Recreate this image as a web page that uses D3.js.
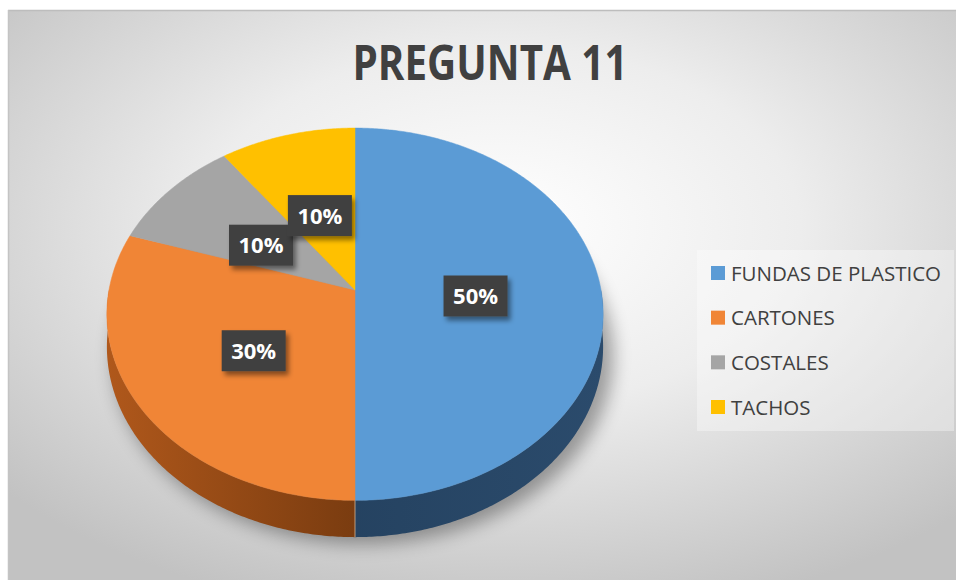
<!DOCTYPE html>
<html>
<head>
<meta charset="utf-8">
<script src="https://cdn.jsdelivr.net/npm/d3@7"></script>
<style>
  body { margin: 0; background: #ffffff; }
</style>
</head>
<body>
<div class="container"></div>
<script>
// data
var categories = ["FUNDAS DE PLASTICO", "CARTONES", "COSTALES", "TACHOS"];
var values = [50, 30, 10, 10];
var labels = ["50%", "30%", "10%", "10%"];
var topColors = ["#5B9BD5", "#F08536", "#A5A5A5", "#FFC000"];
var sideColors = [["#2B4B6C", "#1F3A56"], ["#B0581B", "#7A3C10"], ["#7C7C7C", "#5E5E5E"], ["#BF9000", "#8F6C00"]];

var W = 958, H = 580;

//Makes the stage
function makeStage(w, h) {
    var stage = d3.select(".container")
      .insert("svg")
      .attr("width", w)
      .attr("height", h)
      .style("display", "block");
    return stage;
}

var svg = makeStage(W, H);
var defs = svg.append("defs");

// background gradient
var bg = defs.append("radialGradient")
    .attr("id", "bg")
    .attr("cx", "52%").attr("cy", "38%").attr("r", "70%");
bg.append("stop").attr("offset", "0").attr("stop-color", "#FFFFFF");
bg.append("stop").attr("offset", "0.45").attr("stop-color", "#EDEDED");
bg.append("stop").attr("offset", "1").attr("stop-color", "#C2C2C2");

var blur = defs.append("filter").attr("id", "blur")
    .attr("x", "-20%").attr("y", "-20%").attr("width", "140%").attr("height", "140%");
blur.append("feGaussianBlur").attr("stdDeviation", 9);

var shadow = defs.append("filter").attr("id", "lblshadow")
    .attr("x", "-30%").attr("y", "-30%").attr("width", "160%").attr("height", "170%");
shadow.append("feDropShadow")
    .attr("dx", 3).attr("dy", 4).attr("stdDeviation", 2.5)
    .attr("flood-color", "#000").attr("flood-opacity", 0.45);

sideColors.forEach(function (c, i) {
    var g = defs.append("linearGradient").attr("id", "side" + i)
        .attr("gradientUnits", "userSpaceOnUse")
        .attr("x1", 105).attr("y1", 0).attr("x2", 605).attr("y2", 0);
    if (i == 0) {
        g.append("stop").attr("offset", "0").attr("stop-color", c[1]);
        g.append("stop").attr("offset", "1").attr("stop-color", c[0]);
    } else {
        g.append("stop").attr("offset", "0").attr("stop-color", c[0]);
        g.append("stop").attr("offset", "0.5").attr("stop-color", c[1]);
    }
});

// frame
svg.append("rect")
    .attr("x", 8).attr("y", 10)
    .attr("width", W - 10).attr("height", H - 10)
    .attr("fill", "url(#bg)");
svg.append("line")
    .attr("x1", 8).attr("y1", 10.5).attr("x2", W - 2).attr("y2", 10.5)
    .attr("stroke", "#BDBDBD").attr("stroke-width", 1.5);
svg.append("line")
    .attr("x1", 8.5).attr("y1", 10).attr("x2", 8.5).attr("y2", H)
    .attr("stroke", "#C4C4C4").attr("stroke-width", 1.5);

// title
svg.append("text")
    .text("PREGUNTA 11")
    .attr("x", 490).attr("y", 80)
    .attr("text-anchor", "middle")
    .attr("font-family", "'Liberation Sans Narrow', 'Open Sans', sans-serif")
    .attr("font-weight", "bold")
    .attr("font-size", 48)
    .attr("textLength", 275)
    .attr("lengthAdjust", "spacingAndGlyphs")
    .attr("fill", "#404040");

// pie geometry: a tilted disc seen with a little perspective
var cx = 355, cy = 290, rx = 246, ry = 183, depth = 32, persp = 0.13;

// angle a (0 = top, clockwise), r = fraction of radius, drop = wall height
function pt(a, r, drop) {
    r = (r == null) ? 1 : r;
    var u = r * Math.sin(a), v = r * Math.cos(a);
    var s = 1 / (1 + persp * v);
    return [cx + rx * u * s, cy - ry * v * s + (drop || 0) * s];
}

function samples(a0, a1) {
    var n = Math.max(2, Math.ceil((a1 - a0) / 0.01));
    return d3.range(n + 1).map(function (k) { return a0 + (a1 - a0) * k / n; });
}

var line = d3.line();
var pie = d3.pie().sort(null).value(function (d) { return d; });
var arcs = pie(values);

var pieG = svg.append("g");

// soft shadow under the pie
pieG.append("ellipse")
    .attr("cx", cx + 8).attr("cy", 318 + depth + 6)
    .attr("rx", rx + 4).attr("ry", 188)
    .attr("fill", "#000").attr("opacity", 0.35)
    .attr("filter", "url(#blur)");

// side walls (front half only)
arcs.forEach(function (d, i) {
    var s = Math.max(d.startAngle, Math.PI / 2);
    var e = Math.min(d.endAngle, 3 * Math.PI / 2);
    if (e <= s) return;
    var angs = samples(s, e);
    var upper = angs.map(function (a) { return pt(a); });
    var lower = angs.slice().reverse().map(function (a) { return pt(a, 1, depth); });
    pieG.append("path")
        .attr("d", line(upper.concat(lower)) + "Z")
        .attr("fill", "url(#side" + i + ")");
});

// edge lines on the wall where slices meet
arcs.forEach(function (d) {
    var a = d.startAngle;
    if (a > Math.PI / 2 && a < 3 * Math.PI / 2) {
        var p = pt(a), q = pt(a, 1, depth);
        pieG.append("line")
            .attr("x1", p[0]).attr("y1", p[1]).attr("x2", q[0]).attr("y2", q[1])
            .attr("stroke", "#D9B38F").attr("stroke-width", 1).attr("opacity", 0.8);
    }
});

// top faces
arcs.forEach(function (d, i) {
    var pts = [pt(0, 0)].concat(samples(d.startAngle, d.endAngle).map(function (a) { return pt(a); }));
    pieG.append("path")
        .attr("d", line(pts) + "Z")
        .attr("fill", topColors[i])
        .attr("stroke", topColors[i])
        .attr("stroke-width", 0.5);
});

// data labels
var labG = svg.append("g");
var bw = 64, bh = 41;
arcs.forEach(function (d, i) {
    var m = (d.startAngle + d.endAngle) / 2;
    var p = pt(m, 0.49);
    var g = labG.append("g").attr("transform", "translate(" + p[0] + "," + (p[1] + 6) + ")");
    g.append("rect")
        .attr("x", -bw / 2).attr("y", -bh / 2)
        .attr("width", bw).attr("height", bh)
        .attr("fill", "#404040")
        .attr("filter", "url(#lblshadow)");
    g.append("text").text(labels[i])
        .attr("x", 0).attr("y", 8)
        .attr("text-anchor", "middle")
        .attr("font-family", "'Open Sans', sans-serif")
        .attr("font-weight", "bold")
        .attr("font-size", 22)
        .attr("fill", "#ffffff");
});

// legend
var leg = svg.append("g");
leg.append("rect")
    .attr("x", 697).attr("y", 250)
    .attr("width", 257).attr("height", 181)
    .attr("fill", "#ffffff").attr("opacity", 0.35);

var rowY = d3.scalePoint().domain(categories).range([273, 407]);
categories.forEach(function (c, i) {
    var y = rowY(c);
    leg.append("rect")
        .attr("x", 711).attr("y", y - 7)
        .attr("width", 14).attr("height", 14)
        .attr("fill", topColors[i]);
    leg.append("text").text(c)
        .attr("x", 731).attr("y", y + 7.5)
        .attr("font-family", "'Open Sans', sans-serif")
        .attr("font-size", 20.5)
        .attr("fill", "#404040");
});
</script>
</body>
</html>
